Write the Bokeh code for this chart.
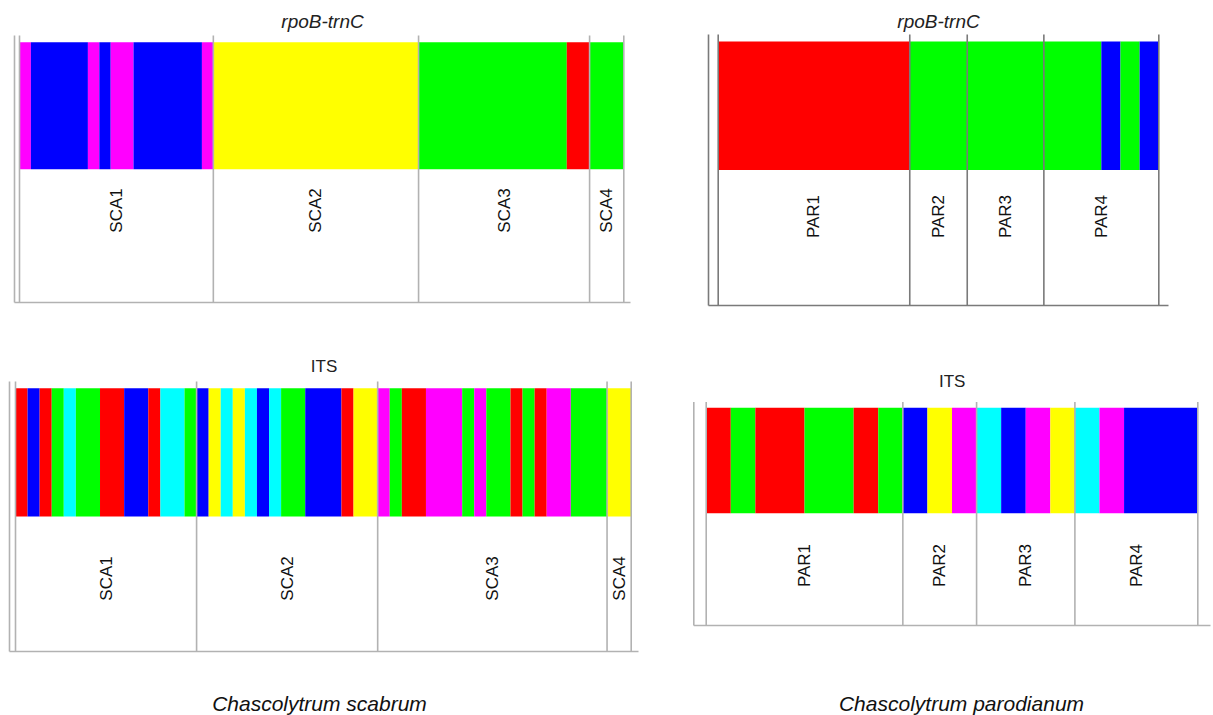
import numpy as np
from bokeh.plotting import figure
from bokeh.models import Range1d
from bokeh.core.properties import value
from bokeh.embed import file_html
from bokeh.resources import INLINE

W, H = 1213, 715
FONT = "Liberation Sans"

# cluster code -> colour
CLUSTER_COLORS = {
    "R": "#ff0000", "G": "#00ff00", "B": "#0000ff",
    "Y": "#ffff00", "M": "#ff00ff", "C": "#00ffff",
}

# ---- data: cluster assignment of every individual, per population ----
sca_pops = ["SCA1", "SCA2", "SCA3", "SCA4"]
par_pops = ["PAR1", "PAR2", "PAR3", "PAR4"]

sca_rpob_sca1 = list("MBBBBBMBMMBBBBBBM")
sca_rpob_sca2 = list("YYYYYYYYYYYYYYYYYY")
sca_rpob_sca3 = list("GGGGGGGGGGGGGRR")
sca_rpob_sca4 = list("GGG")

sca_its_sca1 = list("RBRGCGGRRBBRCCG")
sca_its_sca2 = list("BYCYCBCGGBBBRYY")
sca_its_sca3 = list("MGRRMMMGMGGRGRMMGGG")
sca_its_sca4 = list("YY")

par_rpob_par1 = list("RRRRRRRRRR")
par_rpob_par2 = list("GGG")
par_rpob_par3 = list("GGGG")
par_rpob_par4 = list("GGGBGB")

par_its_par1 = list("RGRRGGRG")
par_its_par2 = list("BYM")
par_its_par3 = list("CBMY")
par_its_par4 = list("CMBBB")

panels = [
    dict(title="rpoB-trnC", italic=True, pops=sca_pops,
         groups=[sca_rpob_sca1, sca_rpob_sca2, sca_rpob_sca3, sca_rpob_sca4],
         left=19, right=623.3, top=41.7, bottom=168.8, ceil=35, base=302,
         outer=14, tail=630, label_y=210, title_y=21, title_size="19px",
         line="#b2b2b2"),
    dict(title="rpoB-trnC", italic=True, pops=par_pops,
         groups=[par_rpob_par1, par_rpob_par2, par_rpob_par3, par_rpob_par4],
         left=717.7, right=1158.3, top=41, bottom=169.5, ceil=34, base=305,
         outer=708, tail=1168, label_y=216, title_y=21, title_size="19px",
         line="#7a7a7a"),
    dict(title="ITS", italic=False, pops=sca_pops,
         groups=[sca_its_sca1, sca_its_sca2, sca_its_sca3, sca_its_sca4],
         left=15, right=630.7, top=387.7, bottom=516, ceil=381, base=651,
         outer=9, tail=638, label_y=578, title_y=366, title_size="17px",
         line="#b2b2b2"),
    dict(title="ITS", italic=False, pops=par_pops,
         groups=[par_its_par1, par_its_par2, par_its_par3, par_its_par4],
         left=705.7, right=1197.3, top=407.3, bottom=512.7, ceil=401.5, base=625,
         outer=693.3, tail=1210, label_y=565, title_y=381, title_size="17px",
         line="#b2b2b2"),
]

species = ["Chascolytrum scabrum", "Chascolytrum parodianum"]

p = figure(width=W, height=H, output_backend="svg", toolbar_location=None,
           x_range=Range1d(0, W), y_range=Range1d(H, 0), title=None,
           x_axis_location=None, y_axis_location=None, min_border=0,
           outline_line_color=None, background_fill_color="white",
           border_fill_color="white")
p.grid.visible = False

for i, pan in enumerate(panels):
    seq = [c for g in pan["groups"] for c in g]
    n = len(seq)
    u = (pan["right"] - pan["left"]) / n
    xname, yname = f"x{i}", f"y{i}"
    # individual index -> horizontal pixel ; membership q (0..1) -> vertical pixel
    p.extra_x_ranges[xname] = Range1d(-pan["left"] / u, (W - pan["left"]) / u)
    bh = pan["bottom"] - pan["top"]
    p.extra_y_ranges[yname] = Range1d(-(H - pan["bottom"]) / bh, pan["bottom"] / bh)

    # merge consecutive individuals with the same cluster into one block
    l, r, col = [], [], []
    start = 0
    for k in range(1, n + 1):
        if k == n or seq[k] != seq[start]:
            l.append(start); r.append(k); col.append(CLUSTER_COLORS[seq[start]])
            start = k
    p.quad(left=l, right=r, bottom=0, top=1, fill_color=col, line_color=None,
           x_range_name=xname, y_range_name=yname)

    # population boundaries
    sizes = [len(g) for g in pan["groups"]]
    bounds = np.concatenate([[0], np.cumsum(sizes)])
    p.segment(x0=bounds, x1=bounds, y0=pan["ceil"], y1=pan["base"],
              line_color=pan["line"], line_width=1.6, x_range_name=xname)
    # frame: outer left rule and base line
    p.segment(x0=[pan["outer"], pan["outer"]], x1=[pan["outer"], pan["tail"]],
              y0=[pan["ceil"], pan["base"]], y1=[pan["base"], pan["base"]],
              line_color=pan["line"], line_width=1.6)

    # population labels, rotated
    mids = (bounds[:-1] + bounds[1:]) / 2
    p.text(x=mids, y=[pan["label_y"]] * len(mids), text=pan["pops"],
           angle=np.pi / 2, text_align="center", text_baseline="middle",
           text_font=value(FONT), text_font_size="17px", text_color="#111111",
           x_range_name=xname)

    # marker title centred over the panel frame
    p.text(x=[(pan["outer"] + pan["tail"]) / 2], y=[pan["title_y"]], text=[pan["title"]],
           text_align="center", text_baseline="middle", text_font=value(FONT),
           text_font_size=pan["title_size"], text_color="#222222",
           text_font_style="italic" if pan["italic"] else "normal")

# species captions
p.text(x=[319, 961], y=[703, 703], text=species, text_align="center",
       text_baseline="middle", text_font=value(FONT), text_font_size="21px",
       text_font_style="italic", text_color="#111111")

open("out.html", "w").write(file_html(p, INLINE))
